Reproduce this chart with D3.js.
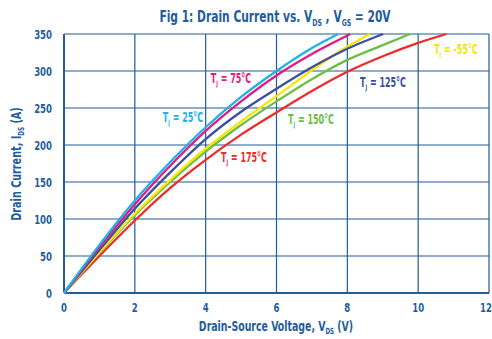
<!DOCTYPE html>
<html>
<head>
<meta charset="utf-8">
<script src="https://cdn.jsdelivr.net/npm/d3@7"></script>
<style>
  html, body { margin: 0; padding: 0; background: #fff; }
  svg { display: block; }
  text { font-family: "DejaVu Sans Condensed", "DejaVu Sans", sans-serif; font-weight: bold; }
</style>
</head>
<body>
<svg id="chart" width="492" height="339"></svg>
<script>
// Drain current (A) vs. drain-source voltage (V) at VGS = 20V, one curve per junction temperature
const xTicks = [0, 2, 4, 6, 8, 10, 12];
const yTicks = [0, 50, 100, 150, 200, 250, 300, 350];

const vds_25  = [0, 1, 2, 3, 4, 5, 6, 7, 7.74];
const ids_25  = [0, 65, 125, 177, 224, 265, 300, 331, 350];
const vds_75  = [0, 1, 2, 3, 4, 5, 6, 7, 8, 8.08];
const ids_75  = [0, 62, 120, 172, 219, 259, 294, 323, 348, 350];
const vds_125 = [0, 1, 2, 3, 4, 5, 6, 7, 8, 9.01];
const ids_125 = [0, 58, 114, 163, 208, 245, 276, 305, 330, 350];
const vds_m55 = [0, 1, 2, 3, 4, 5, 6, 7, 8, 8.64];
const ids_m55 = [0, 55, 107, 153, 195, 232, 266, 301, 333, 350];
const vds_150 = [0, 1, 2, 3, 4, 5, 6, 7, 8, 9, 9.77];
const ids_150 = [0, 54, 105, 150, 191, 227, 259, 289, 315, 335, 350];
const vds_175 = [0, 1, 2, 3, 4, 5, 6, 7, 8, 9, 10, 10.8];
const ids_175 = [0, 50, 98, 142, 180, 214, 244, 273, 299, 320, 338, 350];

// drawing order: later entries sit on top
const series = [
  { name: "175", v: vds_175, i: ids_175, color: "#ee2b2b", label: "175°C", lx: 244, ly: 162 },
  { name: "150", v: vds_150, i: ids_150, color: "#6bbf45", label: "150°C", lx: 311, ly: 124 },
  { name: "-55", v: vds_m55, i: ids_m55, color: "#f7e600", label: "-55°C", lx: 456, ly: 54 },
  { name: "125", v: vds_125, i: ids_125, color: "#3b4f9f", label: "125°C", lx: 383, ly: 87 },
  { name: "75",  v: vds_75,  i: ids_75,  color: "#e5197f", label: "75°C",  lx: 231, ly: 83 },
  { name: "25",  v: vds_25,  i: ids_25,  color: "#1db3e9", label: "25°C",  lx: 183, ly: 122 }
];

const axisBlue = "#1f5d9c";
const textBlue = "#1f5d9c";

const svg = d3.select("#chart");
const plotLeft = 64, plotRight = 489, plotTop = 34, plotBottom = 293;

const x = d3.scaleLinear().domain([0, 12]).range([plotLeft, plotRight]);
const y = d3.scaleLinear().domain([0, 350]).range([plotBottom, plotTop]);

// condensed text: a group placed at (tx, ty), squeezed horizontally
function condensed(parent, tx, ty, sx, extra) {
  const g = parent.append("g")
    .attr("transform", `translate(${tx},${ty})` + (extra || "") + ` scale(${sx},1)`);
  return g.append("text").attr("x", 0).attr("y", 0);
}

// grid
const grid = svg.append("g");
grid.selectAll("line.v").data(xTicks.slice(1)).enter().append("line")
  .attr("x1", d => x(d)).attr("x2", d => x(d))
  .attr("y1", plotTop).attr("y2", plotBottom)
  .attr("stroke", axisBlue).attr("stroke-width", 1.2);
grid.selectAll("line.h").data(yTicks.slice(1)).enter().append("line")
  .attr("x1", plotLeft).attr("x2", plotRight)
  .attr("y1", d => y(d)).attr("y2", d => y(d))
  .attr("stroke", axisBlue).attr("stroke-width", 1.2);

// axes lines
svg.append("line").attr("x1", plotLeft).attr("x2", plotLeft).attr("y1", plotTop).attr("y2", plotBottom)
  .attr("stroke", axisBlue).attr("stroke-width", 2);
svg.append("line").attr("x1", plotLeft).attr("x2", plotRight).attr("y1", plotBottom).attr("y2", plotBottom)
  .attr("stroke", axisBlue).attr("stroke-width", 2);

// tick labels
const tickG = svg.append("g");
yTicks.forEach(d => {
  condensed(tickG, 52, y(d) + 4.5, 0.76)
    .attr("text-anchor", "end").attr("font-size", 12.5).attr("fill", textBlue).text(d);
});
xTicks.forEach(d => {
  const px = Math.min(x(d), 492 - 6);
  condensed(tickG, px, 312, 0.76)
    .attr("text-anchor", "middle").attr("font-size", 12.5).attr("fill", textBlue).text(d);
});

// curves
const line = d3.line().x(d => x(d[0])).y(d => y(d[1])).curve(d3.curveMonotoneX);
svg.append("g").selectAll("path").data(series).enter().append("path")
  .attr("d", s => line(s.v.map((v, k) => [v, s.i[k]])))
  .attr("fill", "none").attr("stroke", s => s.color).attr("stroke-width", 2.3);

// curve labels
series.forEach(s => {
  const t = condensed(svg, s.lx, s.ly, 0.66)
    .attr("text-anchor", "middle").attr("font-size", 13.5).attr("fill", s.color);
  t.append("tspan").text("T");
  t.append("tspan").attr("font-size", 7.5).attr("dy", 3).text("J");
  t.append("tspan").attr("dy", -3).text(" = " + s.label);
});

// title
const title = condensed(svg, 275, 22, 0.72)
  .attr("text-anchor", "middle").attr("font-size", 16.5).attr("fill", textBlue);
title.append("tspan").text("Fig 1: Drain Current vs. V");
title.append("tspan").attr("font-size", 9.5).attr("dy", 4).text("DS");
title.append("tspan").attr("dy", -4).text(" , V");
title.append("tspan").attr("font-size", 9.5).attr("dy", 4).text("GS");
title.append("tspan").attr("dy", -4).text(" = 20V");

// x axis title
const xt = condensed(svg, 276, 331, 0.72)
  .attr("text-anchor", "middle").attr("font-size", 14.5).attr("fill", textBlue);
xt.append("tspan").text("Drain-Source Voltage, V");
xt.append("tspan").attr("font-size", 8.5).attr("dy", 3).text("DS");
xt.append("tspan").attr("dy", -3).text(" (V)");

// y axis title
const yt = condensed(svg, 21, 164, 0.74, " rotate(-90)")
  .attr("text-anchor", "middle").attr("font-size", 14.5).attr("fill", textBlue);
yt.append("tspan").text("Drain Current, I");
yt.append("tspan").attr("font-size", 8.5).attr("dy", 3).text("DS");
yt.append("tspan").attr("dy", -3).text(" (A)");
</script>
</body>
</html>
